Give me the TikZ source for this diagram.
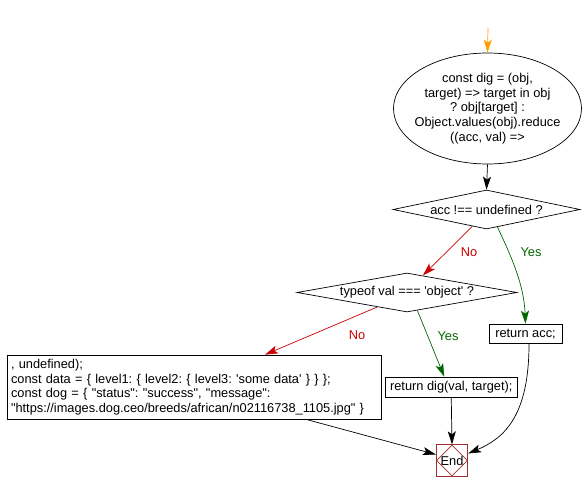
\documentclass[tikz,border=0pt]{standalone}
\usepackage{fontspec}
\setmainfont{Liberation Sans}[Ligatures=TeXOff]
\usetikzlibrary{shapes.geometric,arrows.meta,calc}
\definecolor{noRed}{HTML}{CC0000}
\definecolor{yesGreen}{HTML}{006600}
\definecolor{startOrange}{HTML}{FFA000}
\definecolor{endRed}{HTML}{A03030}
\begin{document}
\frenchspacing
\begin{tikzpicture}[x=1pt,y=-1pt,
  font=\fontsize{12.8}{14.6}\selectfont,
  arr/.style={-{Stealth[length=13pt,width=8pt,inset=3pt]}, line width=0.7pt},
  shapebox/.style={draw, line width=0.7pt, inner sep=0pt},
  txt/.style={inner sep=0pt, align=center},
  procbox/.style={draw, line width=0.7pt, inner xsep=4pt, inner ysep=2pt}]
\useasboundingbox (0,0) rectangle (584,492);

\coordinate (s) at (488,28);
\node[shapebox, ellipse, minimum width=188pt, minimum height=111pt] (e1) at (487.5,108.5) {};
\node[txt] (e1t) at (e1) {const dig = (obj,\\target) => target in obj\\? obj[target] :\\Object.values(obj).reduce\\((acc, val) =>};

\node[shapebox, diamond, minimum width=187pt, minimum height=39pt] (d1) at (486.5,209.5) {};
\node[txt] (d1t) at (d1) {acc !== undefined ?};

\node[shapebox, diamond, minimum width=220pt, minimum height=39pt] (d2) at (407,292.5) {};
\node[txt] (d2t) at (d2) {typeof val === \textquotesingle object\textquotesingle\ ?};

\node[procbox, minimum width=73pt, minimum height=19.5pt, inner sep=0pt] (ra) at (525.5,333.75) {return acc;};
\node[procbox, minimum width=131.5pt, minimum height=20pt, inner sep=0pt] (rd) at (451.25,387) {return dig(val, target);};
\node[procbox, text width=366pt, minimum height=64pt, align=left, inner xsep=4pt] (b1) at (194,387)
  {, undefined);\\const data = \{ level1: \{ level2: \{ level3: \textquotesingle some data\textquotesingle\ \} \} \};\\const dog = \{ "status": "success", "message":\\"https://images.dog.ceo/breeds/african/n02116738\_1105.jpg" \}};

\node[draw=endRed, line width=0.8pt, minimum size=31.5pt, inner sep=0pt] (End) at (452,460.5) {};
\node[draw=endRed, diamond, line width=0.6pt, minimum width=31pt, minimum height=31pt, inner sep=0pt] (Endd) at (End) {};
\node[txt] (Endt) at (End) {End};

\node[text=noRed, inner sep=0pt] (l1) at (469,252) {No};
\node[text=yesGreen, inner sep=0pt] (l2) at (531,252) {Yes};
\node[text=noRed, inner sep=0pt] (l3) at (357,335) {No};
\node[text=yesGreen, inner sep=0pt] (l4) at (448,336) {Yes};

\draw[arr, startOrange] (s) -- (e1.north);
\draw[arr] (e1.south) -- (d1.north);
\draw[arr, noRed] (d1.230) -- (d2.47);
\draw[arr, yesGreen] (d1.302) .. controls (512,258) and (524,285) .. (ra.north);
\draw[arr, noRed] (d2.206) -- ($(b1.north)+(71,0)$);
\draw[arr, yesGreen] (d2.300) -- ($(rd.north)+(-7,0)$);
\draw[arr] (rd.south) -- (End.north);
\draw[arr] ($(b1.south)+(112,0)$) -- ($(End.west)+(0,-6)$);
\draw[arr] ($(ra.south)+(3.5,0)$) .. controls (529,415) and (505,438) .. ($(End.east)+(0,-7)$);
\end{tikzpicture}
\end{document}
